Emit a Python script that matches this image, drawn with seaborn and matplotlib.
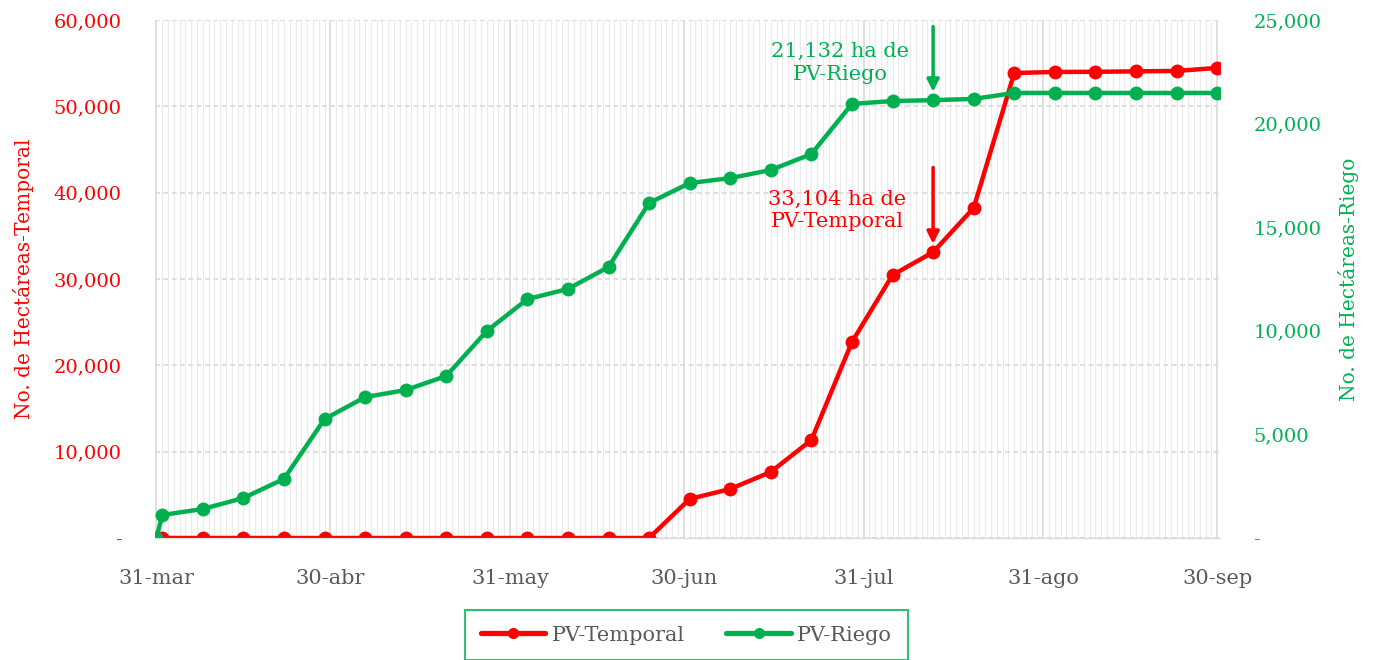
import matplotlib
matplotlib.use("Agg")
import matplotlib.pyplot as plt
import matplotlib.dates as mdates
from matplotlib.lines import Line2D
import pandas as pd
import seaborn as sns

# weekly dates (Riego also has a zero point on 31-mar)
fechas_temporal = pd.date_range("2021-04-01", "2021-09-30", freq="7D")
fechas_riego = [pd.Timestamp("2021-03-31")] + list(fechas_temporal)

temporal = [0, 0, 0, 0, 0, 0, 0, 0, 0, 0, 0, 0, 0,
            4520, 5680, 7650, 11350, 22700, 30460, 33104, 38230,
            53860, 53980, 54000, 54050, 54100, 54450]
riego = [0, 1110, 1400, 1930, 2850, 5740, 6800, 7140, 7820, 9990, 11530,
         12020, 13080, 16170, 17130, 17370, 17760, 18530, 20950, 21090,
         21132, 21190, 21480, 21480, 21480, 21480, 21480, 21480]

meses = ["ene", "feb", "mar", "abr", "may", "jun", "jul", "ago", "sep", "oct", "nov", "dic"]
ticks_x = pd.date_range("2021-03-31", "2021-09-30", freq="ME")
ticks_izq = [0, 10000, 20000, 30000, 40000, 50000, 60000]
ticks_der = [0, 5000, 10000, 15000, 20000, 25000]

ROJO = "#FF0000"
VERDE = "#00B050"
GRIS = "#595959"

df_t = pd.DataFrame({"fecha": fechas_temporal, "ha": temporal})
df_r = pd.DataFrame({"fecha": fechas_riego, "ha": riego})

sns.set_style("white")
plt.rcParams["font.family"] = ["DejaVu Serif", "DejaVu Sans"]

fig = plt.figure(figsize=(13.78, 6.6), dpi=100)
ax = fig.add_axes([155 / 1378, 1 - 538 / 660, 1065 / 1378, 518 / 660])
ax2 = ax.twinx()

sns.lineplot(data=df_t, x="fecha", y="ha", ax=ax, color=ROJO, marker="o",
             markersize=10, markeredgewidth=0, linewidth=3.2)
sns.lineplot(data=df_r, x="fecha", y="ha", ax=ax2, color=VERDE, marker="o",
             markersize=10, markeredgewidth=0, linewidth=3.2)

ax.set_xlim(pd.Timestamp("2021-03-31") - pd.Timedelta(hours=6),
            pd.Timestamp("2021-09-30") + pd.Timedelta(hours=12))
ax.set_ylim(0, 60000)
ax2.set_ylim(0, 25000)

fmt = lambda v, p: "-" if v == 0 else f"{v:,.0f}"
ax.set_yticks(ticks_izq)
ax.yaxis.set_major_formatter(plt.FuncFormatter(fmt))
ax2.set_yticks(ticks_der)
ax2.yaxis.set_major_formatter(plt.FuncFormatter(fmt))

ax.set_xticks(ticks_x)
ax.set_xticklabels([f"{d.day}-{meses[d.month - 1]}" for d in ticks_x])
ax.xaxis.set_minor_locator(mdates.DayLocator())

ax.tick_params(axis="x", which="major", colors="#D9D9D9", labelcolor=GRIS,
               labelsize=15, length=7, width=1, pad=15)
ax.tick_params(axis="x", which="minor", length=0)
ax.tick_params(axis="y", colors=ROJO, labelsize=14, length=0, pad=24)
ax2.tick_params(axis="y", colors=VERDE, labelsize=14, length=0, pad=24)

ax.grid(axis="x", which="minor", color="#EAEAEA", linewidth=0.8)
ax.grid(axis="x", which="major", color="#D9D9D9", linewidth=1.2)
ax.grid(axis="y", which="major", color="#D9D9D9", linewidth=1.2, linestyle=(0, (3, 2)))
ax2.grid(False)

for a in (ax, ax2):
    for s in ("top", "right", "left"):
        a.spines[s].set_visible(False)
    a.spines["bottom"].set_color("#D9D9D9")

ax.set_xlabel("")
ax.set_ylabel("No. de Hectáreas-Temporal", color=ROJO, fontsize=14.5, labelpad=14)
ax2.set_ylabel("No. de Hectáreas-Riego", color=VERDE, fontsize=14.5, labelpad=12)

# annotations
punto = pd.Timestamp("2021-08-12")
ax2.annotate("", xy=(punto, 21132), xytext=(0, 53), textcoords="offset points",
             arrowprops=dict(arrowstyle="-|>", color=VERDE, lw=2.5,
                             mutation_scale=18, shrinkA=0, shrinkB=6))
ax2.annotate("21,132 ha de\nPV-Riego", xy=(punto, 21132), xytext=(-67, 27),
             textcoords="offset points", ha="center", va="center",
             color=VERDE, fontsize=15, linespacing=1.25)
ax.annotate("", xy=(punto, 33104), xytext=(0, 61), textcoords="offset points",
            arrowprops=dict(arrowstyle="-|>", color=ROJO, lw=2.5,
                            mutation_scale=18, shrinkA=0, shrinkB=6))
ax.annotate("33,104 ha de\nPV-Temporal", xy=(punto, 33104), xytext=(-69, 30),
            textcoords="offset points", ha="center", va="center",
            color=ROJO, fontsize=15, linespacing=1.25)

handles = [
    Line2D([], [], color=ROJO, lw=3.8, marker="o", markersize=7),
    Line2D([], [], color=VERDE, lw=3.8, marker="o", markersize=7),
]
leg = fig.legend(handles, ["PV-Temporal", "PV-Riego"], loc="upper center",
                 bbox_to_anchor=(686.5 / 1378, 1 - 610 / 660), ncol=2,
                 frameon=True, fancybox=False, fontsize=15, handlelength=3.1,
                 handletextpad=0.3, columnspacing=2.0, borderpad=0.75,
                 borderaxespad=0)
for t in leg.get_texts():
    t.set_color(GRIS)
leg.get_frame().set_edgecolor(VERDE)
leg.get_frame().set_linewidth(1.5)

fig.savefig("out.png", dpi=100)
